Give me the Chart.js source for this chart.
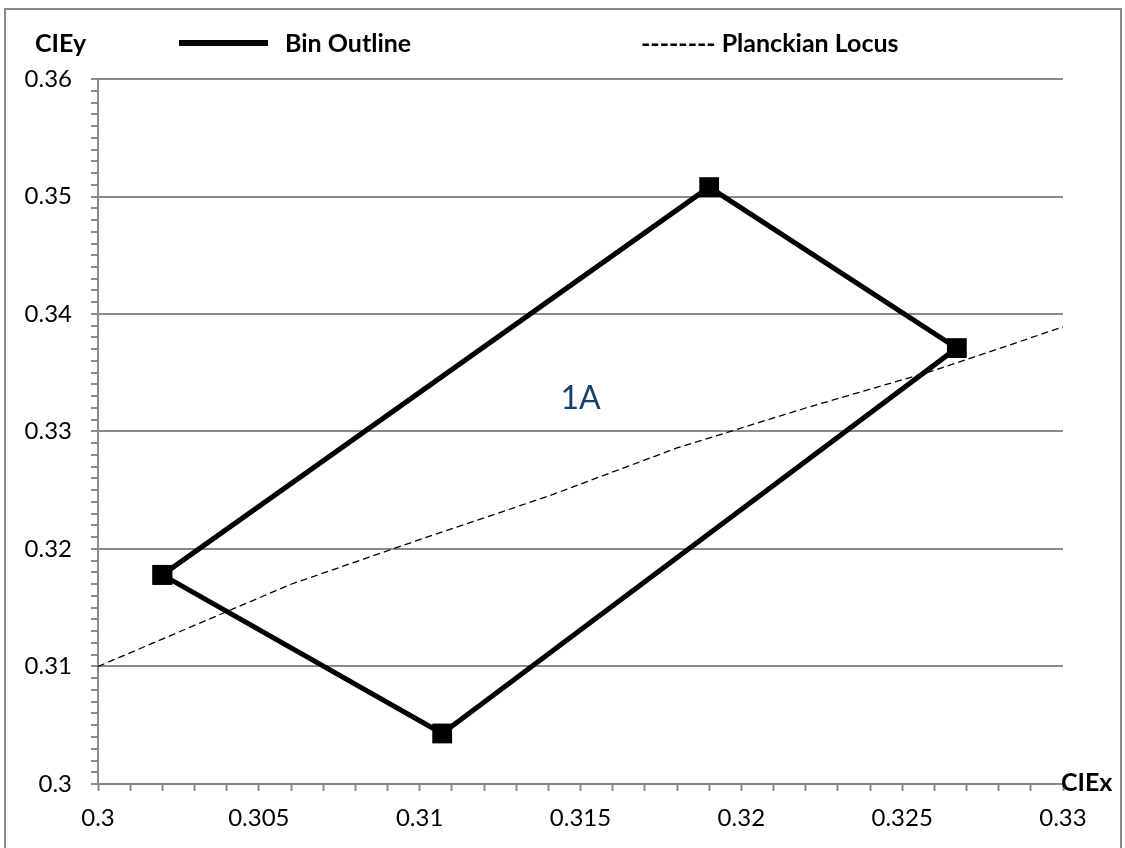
<!DOCTYPE html>
<html>
<head>
<meta charset="utf-8">
<script src="https://cdn.jsdelivr.net/npm/chart.js@4.4.1/dist/chart.umd.min.js"></script>
<style>
  html, body { margin: 0; padding: 0; background: #fff; }
  #wrap { width: 1125px; height: 848px; position: relative; }
</style>
</head>
<body>
<div id="wrap"><canvas id="chart" width="1125" height="848"></canvas></div>
<script>
// Bin corners (CIE x / y), closed back to the first corner
const binX = [0.3020, 0.3107, 0.3267, 0.3190, 0.3020];
const binY = [0.3178, 0.3043, 0.3371, 0.3508, 0.3178];

// Planckian locus
const locusX = [0.3000, 0.3060, 0.3100, 0.3140, 0.3180, 0.3220, 0.3260, 0.3300];
const locusY = [0.3100, 0.3170, 0.3208, 0.3245, 0.3286, 0.3320, 0.3352, 0.3389];

// Bin label position
const binLabel = ['1A'];
const binLabelAt = [0.3150, 0.3328];

const xRange = [0.30, 0.33];
const yRange = [0.30, 0.36];

const gray = '#8a8a8a';
const font = 'Lato, "Open Sans", sans-serif';

const toPoints = (xs, ys) => xs.map((x, i) => ({ x: x, y: ys[i] }));

const isMajor = (v, step) => Math.abs(v / step - Math.round(v / step)) < 1e-6;
const fmt = v => String(Number(v.toFixed(3)));

// Extra texts: border, axis titles, legend and the bin name
const decorations = {
    id: 'decorations',
    beforeDraw(chart) {
        const ctx = chart.ctx;
        ctx.save();
        ctx.strokeStyle = gray;
        ctx.lineWidth = 2;
        ctx.strokeRect(5, 9, 1116, 850);
        ctx.restore();
    },
    afterDraw(chart) {
        const ctx = chart.ctx;
        const xs = chart.scales.x;
        const ys = chart.scales.y;
        ctx.save();
        ctx.fillStyle = '#000';
        ctx.textBaseline = 'alphabetic';
        ctx.textAlign = 'left';
        ctx.font = 'bold 25px ' + font;
        ctx.fillText('CIEy', 35, 52);
        ctx.fillText('CIEx', 1061, 791);

        // legend
        ctx.fillRect(179, 40, 89, 6);
        ctx.fillText('Bin Outline', 285, 52);
        ctx.fillText('-------- Planckian Locus', 641, 52);

        // bin label
        ctx.fillStyle = '#17406D';
        ctx.font = '32px ' + font;
        ctx.textAlign = 'center';
        ctx.textBaseline = 'middle';
        ctx.fillText(binLabel[0], xs.getPixelForValue(binLabelAt[0]), ys.getPixelForValue(binLabelAt[1]));
        ctx.restore();
    }
};

new Chart(document.getElementById('chart'), {
    type: 'scatter',
    data: {
        datasets: [
            {
                label: 'Planckian Locus',
                data: toPoints(locusX, locusY),
                showLine: true,
                borderColor: '#000',
                borderWidth: 1.3,
                borderDash: [7, 4],
                pointRadius: 0,
                order: 2
            },
            {
                label: 'Bin Outline',
                data: toPoints(binX, binY),
                showLine: true,
                borderColor: '#000',
                borderWidth: 5,
                pointStyle: 'rect',
                pointRadius: 14,
                pointBorderWidth: 0,
                pointBackgroundColor: '#000',
                order: 1
            }
        ]
    },
    options: {
        responsive: false,
        animation: false,
        events: [],
        layout: { padding: { left: 0, top: 79, right: 62, bottom: 0 } },
        plugins: {
            legend: { display: false },
            tooltip: { enabled: false }
        },
        scales: {
            x: {
                type: 'linear',
                min: xRange[0],
                max: xRange[1],
                afterFit(scale) { scale.height = 64; },
                border: { color: gray, width: 2 },
                grid: {
                    drawOnChartArea: false,
                    tickColor: gray,
                    tickLength: 7,
                    tickWidth: 2
                },
                ticks: {
                    stepSize: 0.001,
                    autoSkip: false,
                    maxRotation: 0,
                    padding: 13,
                    color: '#000',
                    font: { family: font, size: 24 },
                    callback: v => isMajor(v, 0.005) ? fmt(v) : ''
                }
            },
            y: {
                type: 'linear',
                min: yRange[0],
                max: yRange[1],
                afterFit(scale) { scale.width = 98; },
                border: { color: gray, width: 2 },
                grid: {
                    color: ctx => isMajor(ctx.tick.value, 0.01) ? gray : 'rgba(0,0,0,0)',
                    lineWidth: 2,
                    tickColor: gray,
                    tickLength: 7,
                    tickWidth: 2
                },
                ticks: {
                    stepSize: 0.001,
                    autoSkip: false,
                    padding: 19,
                    color: '#000',
                    font: { family: font, size: 24 },
                    callback: v => isMajor(v, 0.01) ? fmt(v) : ''
                }
            }
        }
    },
    plugins: [decorations]
});
</script>
</body>
</html>
